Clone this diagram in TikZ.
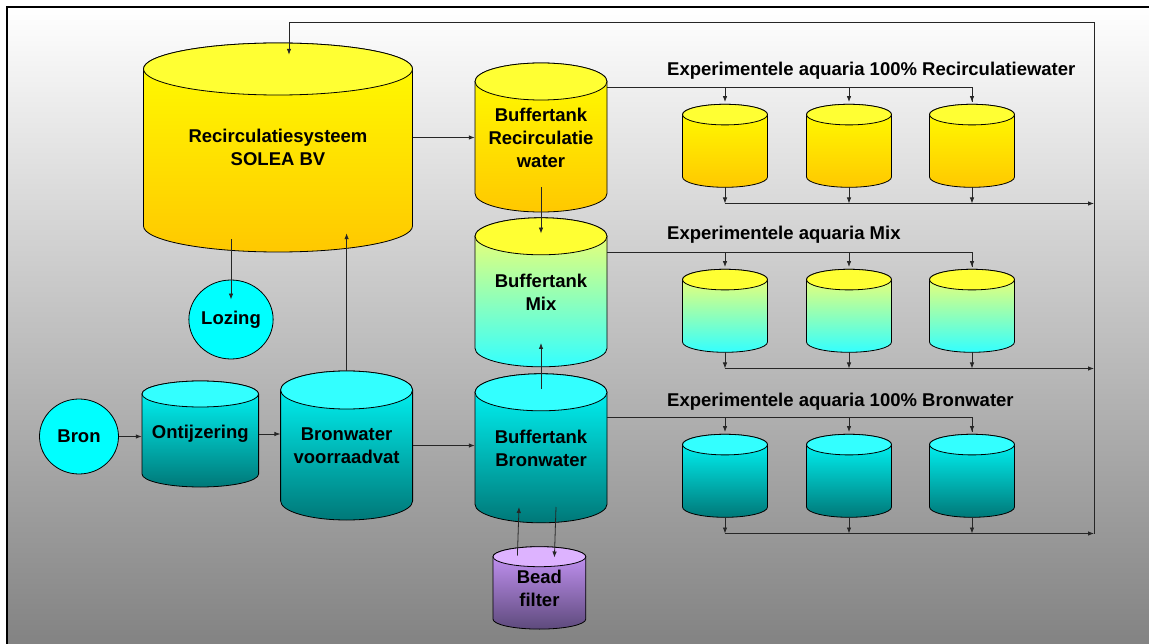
\documentclass[tikz,border=0pt]{standalone}
\usepackage{fontspec}
\setmainfont{Liberation Sans}
\usetikzlibrary{positioning, shapes.geometric, arrows.meta}

\definecolor{lidyel}{HTML}{FFFF33}
\definecolor{yeltop}{HTML}{FFFF00}
\definecolor{yelbot}{HTML}{FFC800}
\definecolor{mixtop}{HTML}{FFFF66}
\definecolor{mixbot}{HTML}{33FFFF}
\definecolor{lidcya}{HTML}{33FFFF}
\definecolor{cyatop}{HTML}{00FFFF}
\definecolor{cyabot}{HTML}{007878}
\definecolor{lidpur}{HTML}{DDB3FF}
\definecolor{purtop}{HTML}{CC99FF}
\definecolor{purbot}{HTML}{5E4A7C}

\tikzset{
  body yel/.style={top color=yeltop, bottom color=yelbot},
  body mix/.style={top color=mixtop, bottom color=mixbot},
  body cya/.style={top color=cyatop, bottom color=cyabot},
  body pur/.style={top color=purtop, bottom color=purbot},
  lid yel/.style={fill=lidyel},
  lid mix/.style={fill=lidyel},
  lid cya/.style={fill=lidcya},
  lid pur/.style={fill=lidpur},
  tanktext/.style={inner sep=0pt, align=center, font=\bfseries\fontsize{18.5}{23}\selectfont},
  header/.style={anchor=west, inner sep=0pt, font=\bfseries\fontsize{18.5}{23}\selectfont},
  well/.style={ellipse, draw, line width=0.8pt, fill=cyatop, inner sep=0pt, font=\bfseries\fontsize{18.5}{23}\selectfont},
  pipe/.style={line width=0.8pt, draw=black!85},
  arr/.style={pipe, -{Latex[length=6pt,width=4.5pt]}}
}

% #1 colours, #2 name, #3 x, #4 y, #5 x radius, #6 half body, #7 y radius, #8 text
\newcommand{\tank}[8]{%
  \shade[body #1, draw, line width=0.8pt] (#3-#5,#4+#6) -- (#3-#5,#4-#6)
    arc[start angle=180, end angle=360, x radius=#5, y radius=#7]
    -- (#3+#5,#4+#6)
    arc[start angle=0, end angle=180, x radius=#5, y radius=#7] -- cycle;
  \filldraw[lid #1, line width=0.8pt] (#3,#4+#6) ellipse[x radius=#5, y radius=#7];
  \node[tanktext, minimum width=2*#5, minimum height=2*#6+2*#7] (#2) at (#3,#4) {#8};
}

\begin{document}
\begin{tikzpicture}[x=1pt, y=1pt]
\useasboundingbox (0,0) rectangle (1149,-644);
\clip (0,0) rectangle (1149,-644);
\shade[top color=white, bottom color=black!50] (7,-7) rectangle (1170,-660);
\draw[line width=2pt] (7,-670) -- (7,-7) -- (1170,-7);

% tanks
\tank{yel}{sys}{278}{-147.5}{134.5}{78.5}{26}{Recirculatiesysteem\\SOLEA BV}
\tank{yel}{bufR}{541}{-137.5}{66}{56}{18.5}{Buffertank\\Recirculatie\\water}
\tank{mix}{bufM}{541}{-292.3}{66}{56}{18.5}{Buffertank\\Mix}
\tank{cya}{bufB}{541}{-448.3}{66}{56}{18.5}{Buffertank\\Bronwater}
\tank{cya}{ontij}{200.3}{-434}{58.3}{40}{13}{Ontijzering}
\tank{cya}{voorraad}{346.6}{-445.5}{66}{55.5}{19}{Bronwater\\voorraadvat}
\tank{pur}{bead}{539.4}{-587.9}{46.4}{31.2}{10}{Bead\\filter}

\node[well, minimum width=79pt, minimum height=75pt] (bron) at (79,-436.5) {Bron};
\node[well, minimum width=84pt, minimum height=79pt] (lozing) at (231,-319.5) {Lozing};

% experimental aquaria
\foreach \row/\col/\yy in {R/yel/-145.8, M/mix/-310.8, B/cya/-475.8}
  \foreach \i/\xx in {1/725, 2/849, 3/972}
    \tank{\col}{aq\row\i}{\xx}{\yy}{42.5}{31.2}{10.3}{};

\node[header] (hdrR) at (667,-70.7) {Experimentele aquaria 100\% Recirculatiewater};
\node[header] (hdrM) at (667,-235) {Experimentele aquaria Mix};
\node[header] (hdrB) at (667,-401.7) {Experimentele aquaria 100\% Bronwater};

% connections
\coordinate (ret) at (1094,-22);
\draw[arr] (bron.east) -- (bron.east -| ontij.west);
\draw[arr] (ontij.east) -- (ontij.east -| voorraad.west);
\draw[arr] (voorraad.east) -- (voorraad.east -| bufB.west);
\draw[arr] (voorraad.north) -- ([yshift=19pt]sys.south -| voorraad.north);
\draw[arr] ([yshift=13pt]sys.south -| lozing.north) -- ([yshift=-20pt]lozing.north);
\draw[arr] (sys.east |- bufR.west) -- (bufR.west);
\draw[arr] ([yshift=25pt]bufR.south) -- ([yshift=-16pt]bufM.north);
\draw[arr] ([yshift=-15pt]bufB.north) -- ([yshift=24pt]bufM.south);
\draw[arr] ([xshift=-22pt,yshift=-9pt]bead.north) -- ([xshift=-22pt,yshift=16pt]bufB.south);
\draw[arr] ([xshift=15pt,yshift=16pt]bufB.south) -- ([xshift=15pt,yshift=-11pt]bead.north);

\foreach \row in {R, M, B} {
  \draw[pipe] ([yshift=17pt]aq\row3.north -| buf\row.east) -| ([yshift=2pt]aq\row3.north);
  \draw[arr] ([yshift=17pt]aq\row3.north) -- ([yshift=2pt]aq\row3.north);
  \foreach \i in {1, 2} {
    \draw[arr] ([yshift=17pt]aq\row\i.north) -- ([yshift=2pt]aq\row\i.north);
  }
  \foreach \i in {1, 2, 3} {
    \draw[arr] (aq\row\i.south) -- ([yshift=-16pt]aq\row\i.south);
  }
  \draw[arr] ([yshift=-16pt]aq\row1.south) -- ([yshift=-16pt]aq\row1.south -| ret);
}
\draw[arr] ([yshift=-16pt]aqB3.south -| ret) -- (ret) -| ([xshift=11pt,yshift=-12pt]sys.north);
\end{tikzpicture}
\end{document}
